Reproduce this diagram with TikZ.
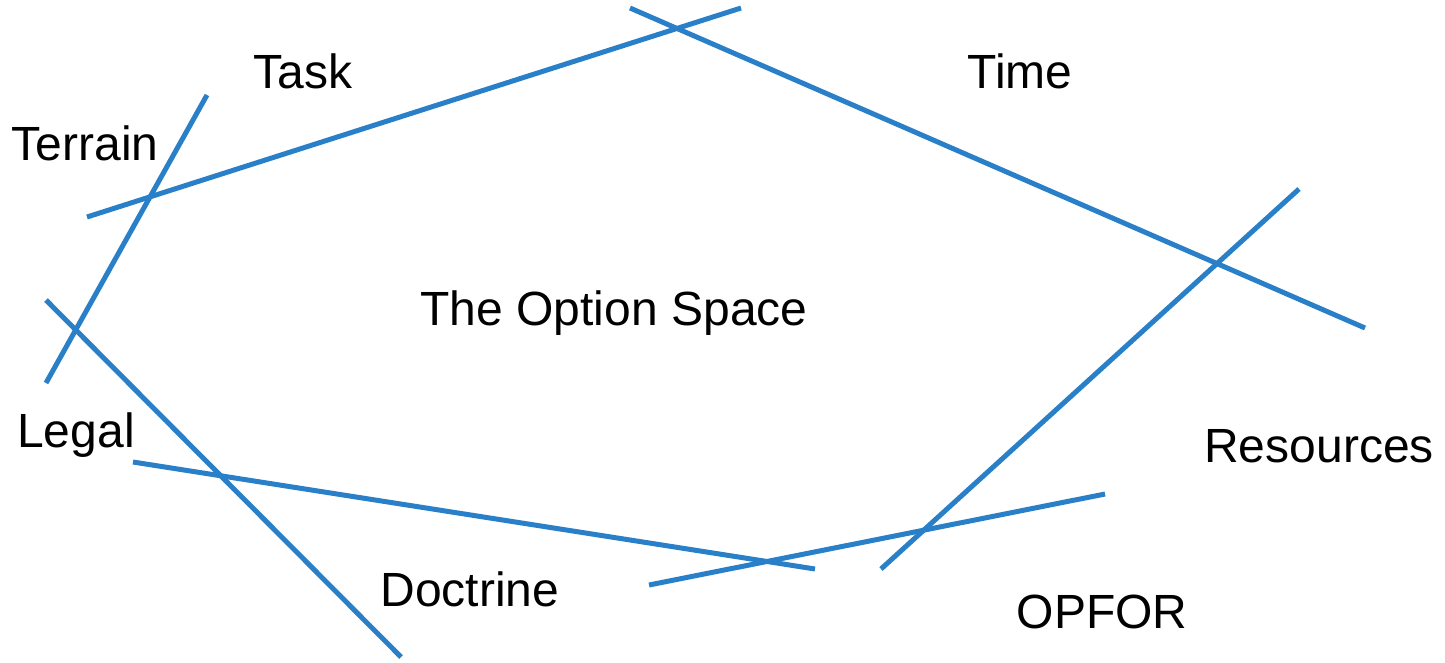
\documentclass[tikz,border=0pt]{standalone}
\usepackage{fontspec}
\setmainfont{Liberation Sans}
\definecolor{lineblue}{RGB}{41,128,200}
\begin{document}
\begin{tikzpicture}[x=1pt,y=-1pt,
  bound/.style={draw=lineblue,line width=5pt},
  lbl/.style={anchor=base,inner sep=0pt,font=\fontsize{48}{57}\selectfont}]
\useasboundingbox (0,0) rectangle (1445,662);
% endpoints
\coordinate (taskA) at (87,217);   \coordinate (taskB) at (741,8);
\coordinate (timeA) at (630,8);    \coordinate (timeB) at (1365,328);
\coordinate (terrA) at (207,95);   \coordinate (terrB) at (46,383);
\coordinate (legA) at (46,300);    \coordinate (legB) at (401,657);
\coordinate (docA) at (133,462);   \coordinate (docB) at (815,569);
\coordinate (opA) at (649,585);    \coordinate (opB) at (1105,494);
\coordinate (resA) at (1299,189);  \coordinate (resB) at (881,569);
\draw[bound] (taskA) -- (taskB);
\draw[bound] (timeA) -- (timeB);
\draw[bound] (terrA) -- (terrB);
\draw[bound] (legA) -- (legB);
\draw[bound] (docA) -- (docB);
\draw[bound] (opA) -- (opB);
\draw[bound] (resA) -- (resB);
% labels
\node[lbl] (task) at (303,88) {Task};
\node[lbl] (time) at (1020,88) {Time};
\node[lbl] (terrain) at (85,160) {Terrain};
\node[lbl] (space) at (614,325) {The Option Space};
\node[lbl] (legal) at (76,447) {Legal};
\node[lbl] (resources) at (1319,462) {Resources};
\node[lbl] (doctrine) at (470,606) {Doctrine};
\node[lbl] (opfor) at (1102,628) {OPFOR};
\end{tikzpicture}
\end{document}
